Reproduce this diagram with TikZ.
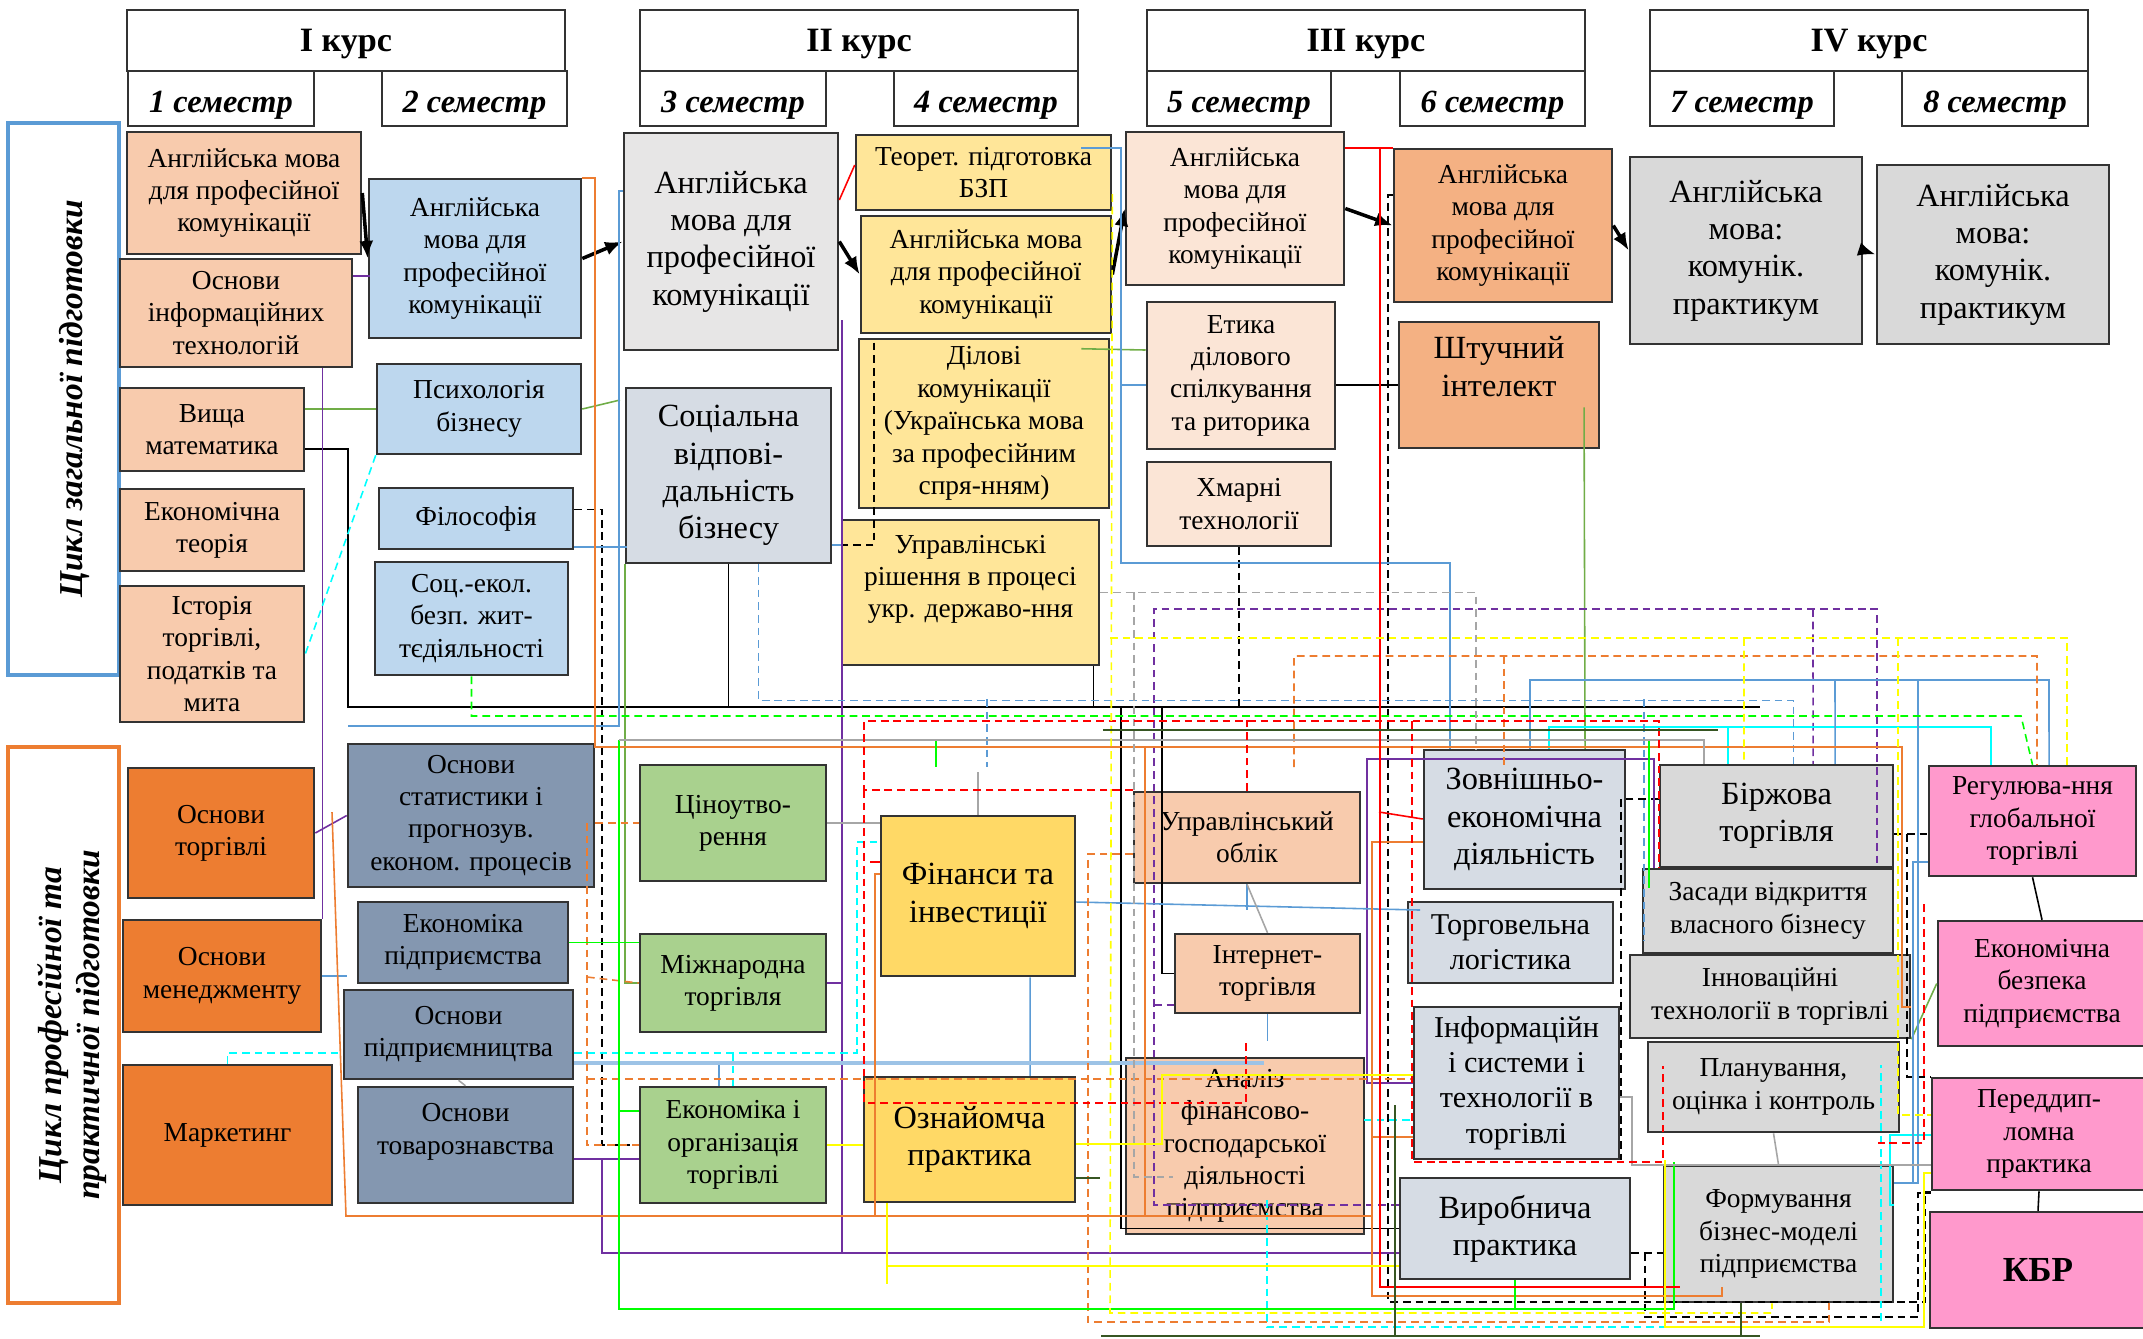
\documentclass[tikz,border=0pt]{standalone}
\usepackage{fontspec}
\setmainfont{Liberation Serif}
\usepackage{graphicx}
\usetikzlibrary{arrows.meta}

\definecolor{lnBlue}{HTML}{5B9BD5}
\definecolor{lnSky}{HTML}{9DC3E6}
\definecolor{lnOrange}{HTML}{ED7D31}
\definecolor{lnGreen}{HTML}{70AD47}
\definecolor{lnLime}{HTML}{00FF00}
\definecolor{lnPurple}{HTML}{7030A0}
\definecolor{lnYellow}{HTML}{FFFF00}
\definecolor{lnRed}{HTML}{FF0000}
\definecolor{lnCyan}{HTML}{00FFFF}
\definecolor{lnGray}{HTML}{A6A6A6}
\definecolor{lnDGreen}{HTML}{375623}
\definecolor{fSalmon}{HTML}{F8CBAD}
\definecolor{fSky}{HTML}{BDD7EE}
\definecolor{fLight}{HTML}{E7E6E6}
\definecolor{fSteel}{HTML}{D6DCE4}
\definecolor{fCream}{HTML}{FFE699}
\definecolor{fPeach}{HTML}{FBE5D6}
\definecolor{fApricot}{HTML}{F4B183}
\definecolor{fGray}{HTML}{D9D9D9}
\definecolor{fOrange}{HTML}{ED7D31}
\definecolor{fSlate}{HTML}{8497B0}
\definecolor{fGreen}{HTML}{A9D18E}
\definecolor{fGold}{HTML}{FFD966}
\definecolor{fPink}{HTML}{FF99CC}

\tikzset{
  box/.style={draw=black!80, line width=0.7pt, align=center, inner sep=1pt, font=\fontsize{7.8}{9.2}\selectfont},
  mid/.style={font=\fontsize{8.6}{10}\selectfont},
  big/.style={font=\fontsize{9.2}{10.6}\selectfont},
  hdr/.style={draw=black!80, line width=0.7pt, fill=white, inner sep=1pt, text height=8.6pt, text depth=2.2pt, font=\bfseries\fontsize{9.7}{11}\selectfont},
  sem/.style={hdr, text height=9.5pt, text depth=1.5pt, font=\bfseries\itshape\fontsize{9.2}{11}\selectfont},
  cycbox/.style={rotate=90, line width=1pt},
  cyc/.style={rotate=90, align=center, font=\bfseries\itshape\fontsize{9.5}{11}\selectfont},
  arr/.style={-{Latex[length=5pt,width=4pt]}, line width=1pt},
  ln/.style={line width=0.45pt},
  dsh/.style={line width=0.45pt, dash pattern=on 2.2pt off 1.4pt},
}

\begin{document}
\begin{tikzpicture}[x=0.01cm, y=-0.01cm]
\useasboundingbox (0,0) rectangle (2143,1338);

\node[hdr, minimum width=4.38cm, minimum height=0.61cm] (k1) at (346,40.5) {I курс};
\node[sem, minimum width=1.86cm, minimum height=0.55cm] (s1) at (221,98.5) {1 семестр};
\node[sem, minimum width=1.85cm, minimum height=0.55cm] (s2) at (474.5,98.5) {2 семестр};
\node[hdr, minimum width=4.38cm, minimum height=0.61cm] (k2) at (859,40.5) {II курс};
\node[sem, minimum width=1.86cm, minimum height=0.55cm] (s3) at (733,98.5) {3 семестр};
\node[sem, minimum width=1.84cm, minimum height=0.55cm] (s4) at (986,98.5) {4 семестр};
\node[hdr, minimum width=4.38cm, minimum height=0.61cm] (k3) at (1366,40.5) {III курс};
\node[sem, minimum width=1.84cm, minimum height=0.55cm] (s5) at (1239,98.5) {5 семестр};
\node[sem, minimum width=1.85cm, minimum height=0.55cm] (s6) at (1492.5,98.5) {6 семестр};
\node[hdr, minimum width=4.38cm, minimum height=0.61cm] (k4) at (1869,40.5) {IV курс};
\node[sem, minimum width=1.84cm, minimum height=0.55cm] (s7) at (1742,98.5) {7 семестр};
\node[sem, minimum width=1.86cm, minimum height=0.55cm] (s8) at (1995,98.5) {8 семестр};

\node[cycbox, draw=lnBlue, minimum width=5.52cm, minimum height=1.11cm] (cyc1) at (63.5,399) {};
\node[cyc] (cyc1txt) at (74,399) {Цикл загальної підготовки};
\node[cycbox, draw=lnOrange, minimum width=5.56cm, minimum height=1.11cm] (cyc2) at (63.5,1025) {};
\node[cyc] (cyc2txt) at (72,1025) {Цикл професійної та\\практичної підготовки};

\node[box, fill=fSalmon, minimum width=2.34cm, minimum height=1.22cm] (e1) at (244,193) {Англійська мова\\для професійної\\комунікації};
\node[box, fill=fSalmon, minimum width=2.32cm, minimum height=1.08cm] (it) at (236,313) {Основи\\інформаційних\\технологій};
\node[box, fill=fSalmon, minimum width=1.84cm, minimum height=0.83cm] (vm) at (212,429.5) {Вища\\математика};
\node[box, fill=fSalmon, minimum width=1.84cm, minimum height=0.82cm] (et) at (212,530) {Економічна\\теорія};
\node[box, fill=fSalmon, minimum width=1.84cm, minimum height=1.36cm] (ist) at (212,654) {Історія\\торгівлі,\\податків та\\мита};
\node[box, fill=fSky, minimum width=2.12cm, minimum height=1.59cm] (e2) at (475,258.5) {Англійська\\мова для\\професійної\\комунікації};
\node[box, fill=fSky, minimum width=2.04cm, minimum height=0.9cm] (psy) at (479,409) {Психологія\\бізнесу};
\node[box, fill=fSky, minimum width=1.94cm, minimum height=0.61cm] (fil) at (476,518.5) {Філософія};
\node[box, fill=fSky, minimum width=1.93cm, minimum height=1.13cm] (bzh) at (471.5,618.5) {Соц.-екол.\\безп. жит-\\тєдіяльності};
\node[box, big, fill=fLight, minimum width=2.14cm, minimum height=2.17cm] (e3) at (731,241.5) {Англійська\\мова для\\професійної\\комунікації};
\node[box, big, fill=fSteel, minimum width=2.05cm, minimum height=1.75cm] (svb) at (728.5,475.5) {Соціальна\\відпові-\\дальність\\бізнесу};
\node[box, fill=fCream, minimum width=2.55cm, minimum height=0.75cm] (teor) at (983.5,172.5) {Теорет. підготовка\\БЗП};
\node[box, fill=fCream, minimum width=2.5cm, minimum height=1.17cm] (e4) at (986,274.5) {Англійська мова\\для професійної\\комунікації};
\node[box, fill=fCream, minimum width=2.5cm, minimum height=1.69cm] (dil) at (984,423.5) {Ділові\\комунікації\\(Українська мова\\за професійним\\спря-нням)};
\node[box, fill=fCream, minimum width=2.57cm, minimum height=1.45cm] (upr) at (970.5,592.5) {Управлінські\\рішення в процесі\\укр. державо-ння\\ ~};
\node[box, fill=fPeach, minimum width=2.18cm, minimum height=1.53cm] (e5) at (1235,208.5) {Англійська\\мова для\\професійної\\комунікації};
\node[box, fill=fPeach, minimum width=1.88cm, minimum height=1.47cm] (eth) at (1241,375.5) {Етика\\ділового\\спілкування\\та риторика};
\node[box, fill=fPeach, minimum width=1.84cm, minimum height=0.84cm] (hm) at (1239,504) {Хмарні\\технології};
\node[box, fill=fApricot, minimum width=2.18cm, minimum height=1.53cm] (e6) at (1503,225.5) {Англійська\\мова для\\професійної\\комунікації};
\node[box, big, fill=fApricot, minimum width=2cm, minimum height=1.26cm] (ai) at (1499,385) {Штучний\\інтелект\\ ~};
\node[box, big, fill=fGray, minimum width=2.32cm, minimum height=1.87cm] (e7) at (1746,250.5) {Англійська\\мова:\\комунік.\\практикум};
\node[box, big, fill=fGray, minimum width=2.32cm, minimum height=1.79cm] (e8) at (1993,254.5) {Англійська\\мова:\\комунік.\\практикум};

\node[box, fill=fOrange, minimum width=1.86cm, minimum height=1.3cm] (ot) at (221,833) {Основи\\торгівлі};
\node[box, fill=fOrange, minimum width=1.98cm, minimum height=1.12cm] (om) at (222,976) {Основи\\менеджменту};
\node[box, fill=fOrange, minimum width=2.09cm, minimum height=1.4cm] (mk) at (227.5,1135) {Маркетинг};
\node[box, fill=fSlate, minimum width=2.46cm, minimum height=1.43cm] (st) at (471,815.5) {Основи\\статистики і\\прогнозув.\\економ. процесів};
\node[box, fill=fSlate, minimum width=2.1cm, minimum height=0.81cm] (ep) at (463,942.5) {Економіка\\підприємства};
\node[box, fill=fSlate, minimum width=2.29cm, minimum height=0.89cm] (opd) at (458.5,1034.5) {Основи\\підприємництва};
\node[box, fill=fSlate, minimum width=2.15cm, minimum height=1.16cm] (tov) at (465.5,1145) {Основи\\товарознавства\\ ~};
\node[box, fill=fGreen, minimum width=1.86cm, minimum height=1.16cm] (cin) at (733,823) {Ціноутво-\\рення};
\node[box, fill=fGreen, minimum width=1.86cm, minimum height=0.98cm] (mt) at (733,983) {Міжнародна\\торгівля};
\node[box, fill=fGreen, minimum width=1.86cm, minimum height=1.16cm] (eot) at (733,1145) {Економіка і\\організація\\торгівлі};
\node[box, big, fill=fGold, minimum width=1.94cm, minimum height=1.6cm] (fin) at (978,896) {Фінанси та\\інвестиції};
\node[box, big, fill=fGold, minimum width=2.11cm, minimum height=1.25cm] (ozn) at (969.5,1139.5) {Ознайомча\\практика};
\node[box, fill=fSalmon, minimum width=2.26cm, minimum height=0.91cm] (uo) at (1247,837.5) {Управлінський\\облік};
\node[box, fill=fSalmon, minimum width=1.85cm, minimum height=0.79cm] (inet) at (1267.5,973.5) {Інтернет-\\торгівля};
\node[box, fill=fSalmon, minimum width=2.38cm, minimum height=1.76cm] (afg) at (1245,1146) {Аналіз\\фінансово-\\господарської\\діяльності\\підприємства};
\node[box, big, fill=fSteel, minimum width=2.01cm, minimum height=1.39cm] (zed) at (1524.5,819.5) {Зовнішньо-\\економічна\\діяльність};
\node[box, mid, fill=fSteel, minimum width=2.05cm, minimum height=0.81cm] (tl) at (1510.5,942.5) {Торговельна\\логістика};
\node[box, mid, fill=fSteel, minimum width=2.05cm, minimum height=1.52cm] (is) at (1516.5,1083) {Інформаційн\\і системи і\\технології в\\торгівлі};
\node[box, big, fill=fSteel, minimum width=2.3cm, minimum height=1.01cm] (vp) at (1515,1228.5) {Виробнича\\практика};
\node[box, big, fill=fGray, minimum width=2.33cm, minimum height=1.02cm] (bt) at (1776.5,816) {Біржова\\торгівля};
\node[box, fill=fGray, minimum width=2.5cm, minimum height=0.84cm] (zas) at (1768,911) {Засади відкриття\\власного бізнесу};
\node[box, fill=fGray, minimum width=2.8cm, minimum height=0.83cm] (inn) at (1770,996.5) {Інноваційні\\технології в торгівлі};
\node[box, fill=fGray, minimum width=2.51cm, minimum height=0.9cm] (pl) at (1773.5,1087) {Планування,\\оцінка і контроль};
\node[box, fill=fGray, minimum width=2.29cm, minimum height=1.36cm] (fbm) at (1778.5,1234) {Формування\\бізнес-моделі\\підприємства};
\node[box, fill=fPink, minimum width=2.07cm, minimum height=1.1cm] (reg) at (2032.5,821) {Регулюва-ння\\глобальної\\торгівлі};
\node[box, fill=fPink, minimum width=2.08cm, minimum height=1.25cm] (eb) at (2042,983.5) {Економічна\\безпека\\підприємства};
\node[box, fill=fPink, minimum width=2.14cm, minimum height=1.12cm] (pd) at (2039,1134) {Переддип-\\ломна\\практика};
\node[box, fill=fPink, minimum width=2.16cm, minimum height=1.16cm, font=\bfseries\fontsize{10}{11}\selectfont] (kbr) at (2038,1270) {КБР};

\draw[arr] (e1.east) -- (e2.west);
\draw[arr] (e2.east) -- (e3.west);
\draw[arr] (e3.east) -- (e4.west);
\draw[arr] (e4.east) -- (e5.west);
\draw[arr] (e5.east) -- (e6.west);
\draw[arr] (e6.east) -- (e7.west);
\draw[arr] (e7.east) -- (e8.west);

\draw[ln] ([yshift=0.23cm]vm.south east) -| (348,707) -- (1760,707);
\draw[ln] (svb.south) -- ++(0,144);
\draw[ln] ([xshift=-0.07cm]upr.south east) -- ++(0,42);
\draw[ln] (eth.east |- ai.west) -- (ai.west);
\draw[ln] (inet.west) -| (1162,707);
\draw[ln] (vp.west) -| (1121,707);
\draw[ln] (reg.south) -- (eb.north);
\draw[ln] (pd.south) -- (kbr.north);
\draw[dsh] (hm.south) -- ++(0,161);
\draw[dsh] ([xshift=0.16cm,yshift=-0.05cm]dil.north west) |- (svb.east |- 0,545);
\draw[dsh] ([yshift=0.09cm]fil.east) -| (602,1145) -- (eot.west);
\draw[dsh] (e6.west |- 0,195) -| (1388,1302) -- (1925,1302) |- (pd.south west);
\draw[dsh] (bt.west |- 0,799) -| (1621,1160);
\draw[dsh] (vp.east |- 0,1253) -- (fbm.west |- 0,1253);
\draw[dsh] (1645,1253) |- (1918,1317) |- (pd.west |- 0,1193);
\draw[dsh] (bt.east |- 0,834) -- (reg.west |- 0,834);
\draw[dsh] (1907,834) |- (pd.north west);

\draw[ln, lnGreen] (vm.east |- psy.west) -- (psy.west);
\draw[ln, lnGreen] (psy.east) -- (620,400);
\draw[ln, lnGreen] (svb.south west) |- (mt.west);
\draw[ln, lnGreen] ([xshift=-0.29cm,yshift=-0.11cm]dil.north east) -- (eth.west |- 0,350);
\draw[ln, lnGreen] ([xshift=0.85cm,yshift=0.42cm]ai.south) -- ([xshift=0.605cm]zed.north);
\draw[ln, lnGreen] (inn.south east) -- (eb.west);
\draw[ln, lnPurple] ([yshift=-0.18cm]it.north east) -- ++(17,0);
\draw[ln, lnPurple] (it.south -| om.north east) -- (om.north east);
\draw[ln, lnPurple] (ot.east) -- (st.west);
\draw[ln, lnPurple] (842,320) -- (842,1253);
\draw[ln, lnPurple] (cin.east) -- ++(16,0);
\draw[ln, lnPurple] (mt.east) -- ++(16,0);
\draw[ln, lnPurple] (tov.east |- 0,1159) -- (eot.west |- 0,1159);
\draw[ln, lnPurple] (602,1159) |- (vp.west |- 0,1253);
\draw[ln, lnPurple] (is.west) -| (1367,759) -| ([xshift=-1.14cm]zas.north);
\draw[dsh, lnPurple] (vp.west |- 0,1205) -| (1154,609) -| ([xshift=1.09cm]zas.north);
\draw[dsh, lnPurple] (1813,609) -- ([xshift=0.365cm]bt.north);
\draw[dsh, lnPurple] (1154,1005) -- (inet.west |- 0,1005);
\draw[dsh, lnCyan] (psy.south west) -- (ist.east);
\draw[dsh, lnCyan] (mk.north) |- (opd.west |- 0,1053);
\draw[dsh, lnCyan] (opd.east |- 0,1053) -| (857,842) -- (fin.west |- 0,842);
\draw[dsh, lnCyan] (733,1053) -- (eot.north);
\draw[dsh, lnCyan] (1267,1200) |- (1881,1327) -- (1881,1065);
\draw[dsh, lnCyan] (1364,1120) -- (is.west |- 0,1120);
\draw[ln, lnCyan] ([xshift=0.245cm]zed.north) |- (1991,727) -- ([xshift=-0.415cm]reg.north);
\draw[ln, lnCyan] (1728,727) -- ([xshift=-0.485cm]bt.north);
\draw[ln, lnCyan] (fbm.east |- 0,1205) -| (1890,1135) -- (pd.west |- 0,1135);
\draw[ln, lnBlue] ([yshift=-0.59cm]e3.north west) -- ++(-4,0) |- (348,726);
\draw[ln, lnBlue] (fil.south east) ++(0,-3) -- ++(53,0);
\draw[ln, lnBlue] (svb.east |- 0,545) -- (upr.west |- 0,545);
\draw[ln, lnBlue] ([xshift=-0.31cm,yshift=-0.14cm]teor.north east) -| (1121,563) -| ([xshift=-0.745cm]zed.north);
\draw[ln, lnBlue] (1121,385) -- (eth.west |- 0,385);
\draw[ln, lnBlue] ([xshift=0.055cm]zed.north) |- (2049,680) -- ([xshift=0.165cm]reg.north);
\draw[ln, lnBlue] (1835,680) -- ([xshift=0.585cm]bt.north);
\draw[ln, lnBlue] (1918,680) |- (fbm.east |- 0,1183);
\draw[ln, lnBlue] (reg.west |- 0,862) -| (1913,1183);
\draw[ln, lnBlue] (om.east) -- (om.east -| st.west);
\draw[ln, lnBlue] (fin.east |- 0,902) -- (1420,910);
\draw[ln, lnBlue] (uo.south) -- ++(0,26);
\draw[ln, lnBlue] (inet.south) -- ++(0,27);
\draw[ln, lnBlue] ([xshift=0.52cm]fin.south) -- ([xshift=0.605cm]ozn.north);
\draw[ln, lnBlue] (719,1063) -- ([xshift=-0.14cm]eot.north);
\draw[lnSky, line width=1pt] (opd.east |- 0,1063) -- (1264,1063);
\draw[dsh, lnBlue] ([xshift=0.3cm]svb.south) -- ++(0,136) -| ([xshift=0.17cm]bt.north);
\draw[dsh, lnBlue] (1644,699) -- (1644,940);
\draw[dsh, lnBlue] (987,699) -- (987,767);
\draw[ln, lnOrange] (e2.north east) -| (595,747) -- (1902,747) -- (1902,1007) -- (inn.east |- 0,1007);
\draw[ln, lnOrange] (332,812) -- (346,1216) -- (1372,1216);
\draw[ln, lnOrange] (fin.west |- 0,874) -| (875,1216);
\draw[ln, lnOrange] (1145,747) -- (1145,1216);
\draw[ln, lnOrange] (zed.west |- 0,842) -| (1372,1296) -| (1722,1287);
\draw[ln, lnOrange] (1372,1137) -- (is.west |- 0,1137);
\draw[dsh, lnOrange] (1294,767) |- (2037,656) -- ([xshift=0.045cm]reg.north);
\draw[dsh, lnOrange] (1504,656) -- (1504,767);
\draw[dsh, lnOrange] (st.east |- cin.west) -- (cin.west);
\draw[dsh, lnOrange] (587,823) |- (eot.west);
\draw[dsh, lnOrange] (587,977) -- (mt.west);
\draw[dsh, lnOrange] (587,1079) -- (is.west |- 0,1079);
\draw[dsh, lnOrange] (uo.west |- 0,854) -| (1088,1322) -| ([xshift=0.505cm]fbm.south);
\draw[dsh, lnLime] (bzh.south) |- (2021,716) -- (reg.north);
\draw[ln, lnLime] (eot.west |- 0,1111) -| (619,740);
\draw[ln, lnLime] (619,1111) |- (1674,1309) -- (1674,1162);
\draw[ln, lnLime] (vp.south) -- ++(0,30);
\draw[ln, lnLime] (936,740) -- (936,767);
\draw[ln, lnLime] (1649,740) -- (1649,888);
\draw[ln, lnLime] (ep.east) -- (mt.west |- ep.east);
\draw[ln, lnGray] (619,740) -| ([xshift=-0.725cm]bt.north);
\draw[ln, lnGray] (cin.east) -- (fin.west |- cin.east);
\draw[ln, lnGray] (fin.north) -- ++(0,-43);
\draw[ln, lnGray] (uo.south) -- (inet.north);
\draw[ln, lnGray] (opd.south) -- (tov.north);
\draw[ln, lnGray] (pl.south) -- (fbm.north);
\draw[ln, lnGray] (is.east |- 0,1097) -| (1632,1165) -- (pd.west |- 0,1165);
\draw[dsh, lnGray] (upr.east) -| ([xshift=-0.485cm]zed.north);
\draw[dsh, lnGray] (1134,592) -- (1134,1177) -- (1173,1177);
\draw[dsh, lnRed] (uo.west |- 0,790) -| (864,721) -| ([xshift=-1.09cm]zas.north);
\draw[dsh, lnRed] (864,790) -- (864,1103) -| (1246,1040);
\draw[dsh, lnRed] (uo.north) -- ++(0,-71);
\draw[dsh, lnRed] (1412,721) |- (1663,1162) -- (1663,1066);
\draw[dsh, lnRed] (1924,904) |- (1878,1143);
\draw[ln, lnRed] (e5.east |- e6.north west) -- (e6.north west);
\draw[ln, lnRed] (1380,149) |- (1680,1287);
\draw[ln, lnRed] (e3.east |- 0,200) -- (teor.west |- 0,165);
\draw[ln, lnRed] (1379,812) -- (zed.west |- 0,819);
\draw[ln, lnRed] (870,862) -- (fin.west |- 0,862);
\draw[ln, lnYellow] (ozn.east |- 0,1144) -| (1162,1075) -- (is.west |- 0,1075);
\draw[ln, lnYellow] (eot.east) -- (ozn.west |- eot.east);
\draw[ln, lnYellow] ([xshift=-0.825cm]ozn.south) -- ++(0,81);
\draw[ln, lnYellow] (887,1266) -- (vp.west |- 0,1266);
\draw[ln, lnYellow] (pd.west |- 0,1173) -| (1924,1327) -| (1665,1160);
\draw[dsh, lnYellow] ([yshift=-0.215cm]teor.east) -- (1110,1313) -| ([xshift=-0.065cm]fbm.south);
\draw[dsh, lnYellow] (1110,638) -| ([xshift=0.345cm]reg.north);
\draw[dsh, lnYellow] (1744,638) -- ([xshift=-0.325cm]bt.north);
\draw[dsh, lnYellow] (1898,638) |- (pd.west |- 0,1115);
\draw[ln, lnDGreen] (1103,730) -- (1718,730);
\draw[ln, lnDGreen] (1101,1336) -- (1760,1336);
\draw[ln, lnDGreen] (1395,1105) -- (1395,1336);
\draw[ln, lnDGreen] ([xshift=-0.375cm]fbm.south) -- ++(0,34);
\draw[ln, lnDGreen] (ozn.east |- 0,1178) -- ++(24,0);
\end{tikzpicture}
\end{document}
